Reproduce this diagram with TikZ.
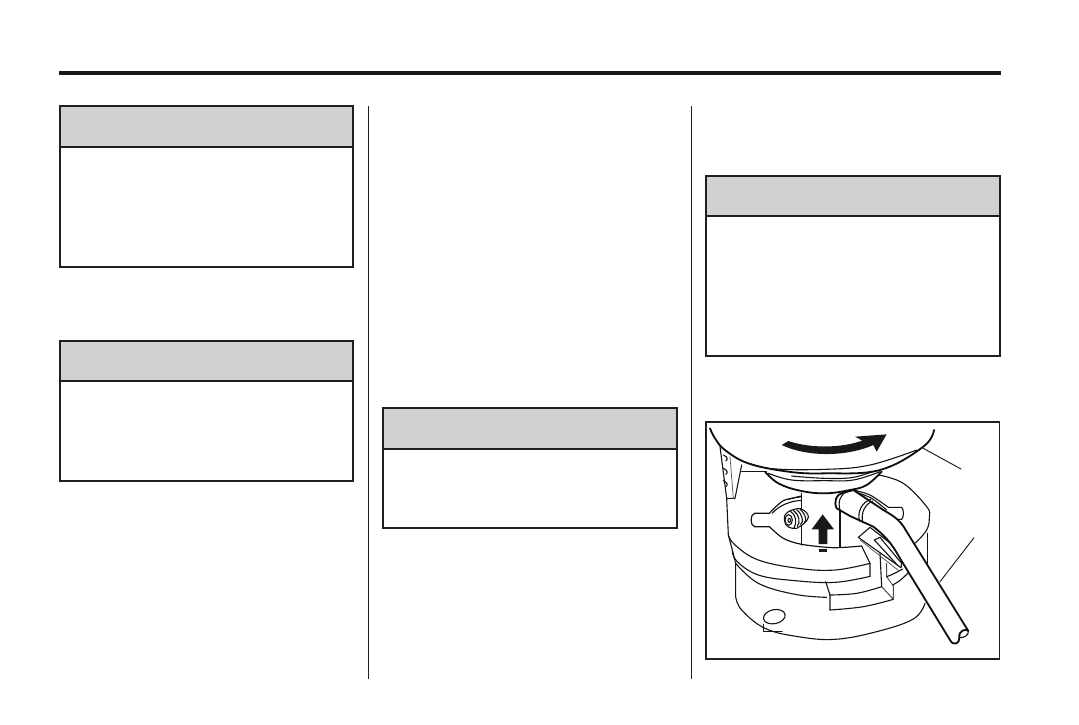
\documentclass[tikz,border=0pt]{standalone}
\begin{document}
\begin{tikzpicture}[x=1pt,y=-1pt,
  boxline/.style={draw=black!88,line width=2pt},
  boxhead/.style={fill=black!18,draw=black!88,line width=2pt},
  sep/.style={draw=black!88,line width=1pt},
  ink/.style={draw=black!92,line width=1.1pt,line join=round,line cap=round},
  heavy ink/.style={draw=black!95,line width=1.8pt,line join=round,line cap=round},
  thin ink/.style={draw=black!70,line width=0.7pt,line join=round,line cap=round},
  curve/.style={smooth,tension=0.65}]
\useasboundingbox (0,0) rectangle (1079,724);
\fill[white] (0,0) rectangle (1079,724);
\fill[black!90] (59,71) rectangle (1001,75);
\draw[sep] (368.5,106) -- (368.5,679);
\draw[sep] (691.5,106) -- (691.5,679);
% boxes
\draw[boxhead] (60,106) rectangle (353,147);
\draw[boxline] (60,147) rectangle (353,267);
\draw[boxhead] (60,341) rectangle (353,381);
\draw[boxline] (60,381) rectangle (353,481);
\draw[boxhead] (383,408) rectangle (677,449);
\draw[boxline] (383,449) rectangle (677,528);
\draw[boxhead] (706,176) rectangle (1000,216);
\draw[boxline] (706,216) rectangle (1000,356);
% frame
\draw[draw=black!88,line width=1.1pt] (706,422) rectangle (999.5,659);
\begin{scope}[shift={(700,415)},scale=1/3]
% leaders
\draw[ink,line width=0.9pt] (670,100) -- (783,162);
\draw[ink,line width=0.9pt] (822,368) -- (720,500);
% foot
\draw[ink,line width=1.3pt] (190,628) -- (190,650) -- (246,650);
% left panel
\draw[ink] (60,95) -- (80,250) -- (105,250) -- (125,150);
\draw[thin ink] (90,125) -- (100,250);
\foreach \yy in {120,160,197}
  \draw[ink] (70,\yy) .. controls (84,\yy+6) and (84,\yy+14) .. (77,\yy+18);
\draw[ink,line width=1.4pt] (125,170) -- (200,170);
% body left edge
\draw[ink] (80,250) -- (85,360) -- (97,405) -- (107,445) -- (107,545);
% body curves
\draw[ink] plot[curve] coordinates {(85,360) (105,390) (175,435) (295,460) (405,465) (510,445)};
\draw[ink] plot[curve] coordinates {(97,405) (110,438) (175,480) (285,497) (405,502) (510,484)};
\draw[ink] plot[curve] coordinates {(107,445) (175,505) (285,538) (380,547)};
\draw[ink] plot[curve] coordinates {(107,545) (125,585) (195,640) (295,665) (405,673) (530,650) (640,612) (675,565)};
% hole
\draw[ink] (223,605) ellipse [x radius=33,y radius=21,rotate=12];
% recess
\draw[ink,line width=1.2pt] (305,235) -- (305,390);
\draw[ink] (420,280) -- (420,395);
\draw[ink,line width=1.2pt] plot[curve,tension=0.5] coordinates {(305,245) (250,257) (208,295)} -- (163,295)
  .. controls (150,300) and (150,330) .. (163,335) -- (208,335)
  plot[curve,tension=0.5] coordinates {(208,335) (250,370) (305,388) (400,398) (485,393)};
\draw[ink] (305,256) .. controls (270,258) and (240,270) .. (216,295);
% notch
\draw[ink] (485,393) -- (510,445) -- (510,484);
% lower block
\draw[ink] (377,500) -- (390,540) -- (390,585);
\draw[ink] plot[curve] coordinates {(390,540) (470,535) (545,515)};
\draw[ink] plot[curve] coordinates {(390,585) (490,575) (580,553)};
\draw[thin ink,line width=1pt] (545,515) -- (580,553) -- (580,513);
\draw[ink] (540,415) -- (545,515);
\draw[thin ink,line width=0.9pt] (560,445) -- (560,485) -- (580,513);
\draw[ink] (560,485) .. controls (575,480) and (590,472) .. (608,462);
\draw[ink] (578,510) .. controls (595,502) and (615,485) .. (632,465);
% ring top right
\draw[ink] plot[curve] coordinates {(535,180) (610,205) (680,275) (688,305) (680,345) (645,385)};
\draw[ink,line width=1.4pt] (682,355) -- (682,445);
% notch right
\draw[ink] plot[curve,tension=0.5] coordinates {(460,225) (510,240) (565,277)} -- (605,277)
  .. controls (612,283) and (612,308) .. (605,313) -- (585,313);
\draw[ink] plot[curve,tension=0.5] coordinates {(470,232) (515,250) (560,285)};
% collar
\draw[heavy ink,fill=white] plot[curve] coordinates {(195,170) (235,205) (300,227) (375,235) (450,225) (500,210) (545,170)};
\draw[ink] plot[curve] coordinates {(205,175) (275,195) (375,197) (460,195) (540,170)};
\draw[ink] plot[curve] coordinates {(275,183) (375,190) (460,187) (530,165)};
\draw[ink] (265,253) -- (303,243);
% bowl
\fill[white] plot[curve] coordinates {(30,40) (45,70) (75,105) (145,145) (265,170) (375,175) (540,165) (670,95) (702,45)};
\draw[heavy ink] plot[curve] coordinates {(30,40) (45,70) (75,105) (145,145) (265,170) (375,175) (540,165) (670,95) (702,45)};
\draw[ink] plot[curve] coordinates {(120,135) (205,160) (375,163) (510,150) (650,105)};
\fill[black!90] (245,90) -- (265,78) .. controls (330,100) and (420,100) .. (487,77)
  -- (465,65) -- (560,58) -- (530,110) -- (520,90)
  .. controls (450,122) and (330,130) .. (245,90) -- cycle;
% screw
\draw[ink,fill=white] (265,290) .. controls (280,282) and (292,280) .. (302,281)
  .. controls (318,288) and (326,298) .. (325,307) .. controls (322,320) and (308,330) .. (290,340)
  .. controls (270,342) and (255,335) .. (253,315) .. controls (252,302) and (256,294) .. (265,290) -- cycle;
\foreach \ox in {0,10,20,30}
  \draw[ink] (270+\ox,288-\ox*0.2) .. controls (288+\ox,298) and (292+\ox,322) .. (282+\ox,340-\ox*0.6);
\draw[ink,fill=white] (266,315) ellipse [x radius=11,y radius=16];
\draw[ink] (268,316) ellipse [x radius=4,y radius=6];
% up arrow
\fill[black!90] (368,298) -- (402,343) -- (382,343) -- (382,387) -- (356,387) -- (356,343) -- (335,343) -- cycle;
\fill[black!90] (356,403) rectangle (382,412);
% bracket
\draw[ink,fill=white] (475,367) -- (510,337) -- (610,415) -- (603,458) -- cycle;
\draw[ink] (523,375) -- (540,367) -- (603,443);
\draw[ink] (523,375) -- (592,450);
\draw[thin ink] (480,375) -- (595,466);
% tube
\draw[heavy ink,fill=white] (460,225) -- (550,285) .. controls (575,300) and (600,312) .. (620,350)
  -- (805,648) .. controls (800,640) and (775,645) .. (778,668)
  .. controls (780,685) and (760,695) .. (750,675)
  -- (600,430) .. controls (580,395) and (565,370) .. (520,335)
  -- (450,303) -- (410,280) .. controls (400,260) and (410,238) .. (425,235) -- cycle;
\draw[ink] (805,648) .. controls (808,660) and (790,670) .. (778,668);
\draw[ink] (512,253) .. controls (485,262) and (472,290) .. (478,318);
\draw[ink] (518,258) .. controls (495,268) and (482,292) .. (488,322);
\draw[ink] (442,228) .. controls (420,240) and (413,260) .. (420,285);
\end{scope}
\end{tikzpicture}
\end{document}
